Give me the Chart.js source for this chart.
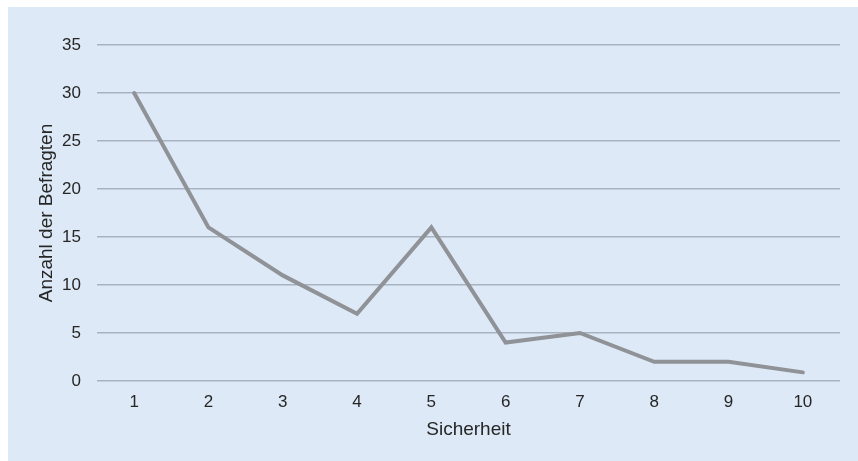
<!DOCTYPE html>
<html><head><meta charset="utf-8">
<script src="https://cdn.jsdelivr.net/npm/chart.js@4/dist/chart.umd.min.js"></script>
<style>
html,body{margin:0;padding:0;background:#fff;}
#wrap{width:858px;height:461px;position:relative;}
</style></head>
<body><div id="wrap"><canvas id="c" width="858" height="461"></canvas></div>
<script>
const categories = ['1','2','3','4','5','6','7','8','9','10'];
const befragte = [30, 16, 11, 7, 16, 4, 5, 2, 2, 0.9];
const yTicks = [0, 5, 10, 15, 20, 25, 30, 35];

const bgPlugin = {
  id: 'bg',
  beforeDraw(chart) {
    const ctx = chart.ctx;
    ctx.save();
    ctx.fillStyle = '#dde9f6';
    ctx.fillRect(8, 7, chart.width - 8, chart.height - 7);
    ctx.restore();
  }
};

const FONT = 'Liberation Sans, Arial, sans-serif';
const TXT = '#262626';

new Chart(document.getElementById('c'), {
  type: 'line',
  data: {
    labels: categories,
    datasets: [{
      data: befragte,
      borderColor: '#8f9297',
      borderWidth: 4,
      pointRadius: 0,
      tension: 0,
      borderCapStyle: 'round',
      borderJoinStyle: 'miter'
    }]
  },
  options: {
    responsive: false,
    animation: false,
    devicePixelRatio: 1,
    layout: { padding: { left: 0, right: 18, top: 45, bottom: 0 } },
    plugins: { legend: { display: false }, tooltip: { enabled: false } },
    scales: {
      x: {
        type: 'category',
        offset: true,
        grid: { display: false, drawTicks: false },
        border: { display: false },
        ticks: { color: TXT, font: { family: FONT, size: 17 }, padding: 11, maxRotation: 0 },
        title: { display: true, text: 'Sicherheit', color: TXT, font: { family: FONT, size: 19 }, padding: { top: 0, bottom: 19.5 } },
        afterFit(s) { s.height = 80; }
      },
      y: {
        min: 0, max: 35,
        afterBuildTicks(s) { s.ticks = yTicks.map(v => ({ value: v })); },
        grid: { color: '#a8b3bf', lineWidth: 1.5, drawTicks: false },
        border: { display: false },
        ticks: { color: TXT, font: { family: FONT, size: 17 }, padding: 16 },
        title: { display: true, text: 'Anzahl der Befragten', color: TXT, font: { family: FONT, size: 19 }, padding: { top: 35.5, bottom: 0 } },
        afterFit(s) { s.width = 97; }
      }
    }
  },
  plugins: [bgPlugin]
});
</script>
</body></html>
